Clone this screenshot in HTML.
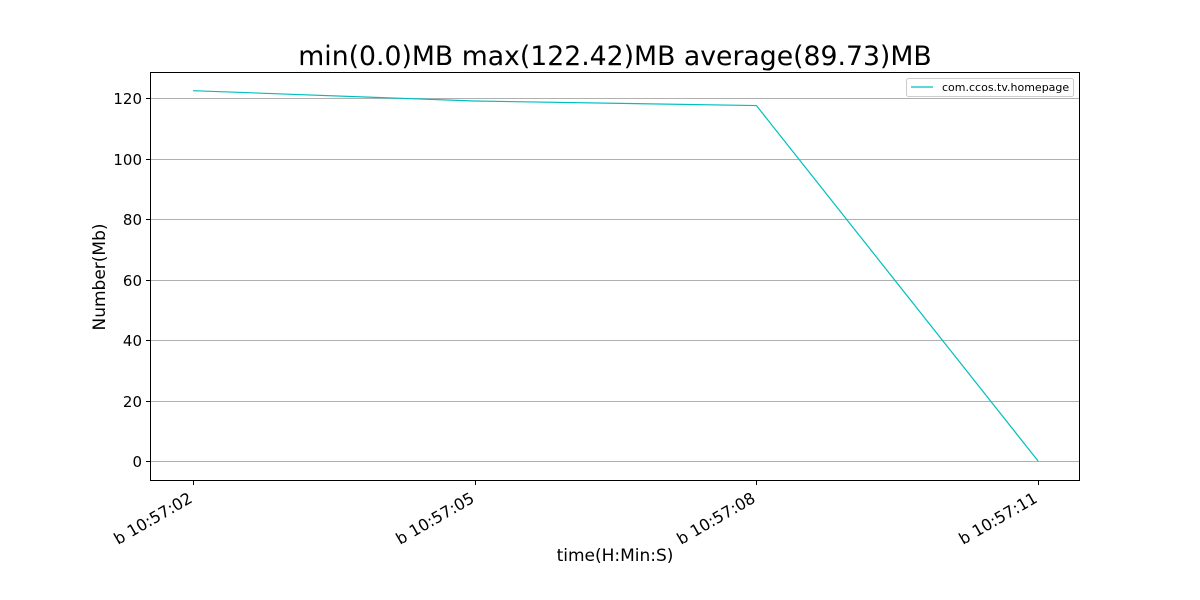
<!DOCTYPE html>
<html><head><meta charset="utf-8"><style>body{margin:0;background:#fff}svg{display:block;font-family:"DejaVu Sans","Liberation Sans",sans-serif}</style></head>
<body>
<svg id="chart" width="1200" height="600">
<rect width="1200" height="600" fill="#fff"/>
<text x="615" y="65" font-size="26.7" text-anchor="middle">min(0.0)MB max(122.42)MB average(89.73)MB</text>
<g id="grid"></g>
<g id="yticks"></g>
<g id="xticks"></g>
<path id="line" fill="none" stroke="#00bfbf" stroke-width="1.2"/>
<rect x="150.5" y="72.5" width="929" height="408" fill="none" stroke="#000" stroke-width="1"/>
<text x="615" y="561" font-size="17" text-anchor="middle">time(H:Min:S)</text>
<text transform="translate(105,277) rotate(-90)" font-size="17" text-anchor="middle">Number(Mb)</text>
<g>
<rect x="906.5" y="78.5" width="167" height="18" fill="#fff" stroke="#ccc" rx="2"/>
<line x1="911" y1="87" x2="933" y2="87" stroke="#00bfbf" stroke-width="1.2"/>
<text x="942" y="91" font-size="11">com.ccos.tv.homepage</text>
</g>
</svg>
<script>
const categories=["b 10:57:02","b 10:57:05","b 10:57:08","b 10:57:11"];
const values=[122.42,119.0,117.5,0.0];
const yTicks=[0,20,40,60,80,100,120];
const NS="http://www.w3.org/2000/svg";
const xs=i=>193+i*281.7;
const ys=v=>461-v*3.025;
const grid=document.getElementById('grid'),yt=document.getElementById('yticks'),xt=document.getElementById('xticks');
function mk(tag,at,parent){const e=document.createElementNS(NS,tag);for(const k in at)e.setAttribute(k,at[k]);parent.appendChild(e);return e;}
yTicks.forEach(v=>{
 const y=Math.round(ys(v))+0.5;
 const g=mk('line',{x1:150.5,x2:1079.5,y1:y,y2:y,stroke:'#b0b0b0','stroke-width':1},grid);
 
 
 mk('line',{x1:146,x2:150.5,y1:y,y2:y,stroke:'#000'},yt);
 const t=mk('text',{x:142,y:y+5.5,'font-size':15,'text-anchor':'end'},yt);
 t.textContent=v;
 
 
});
categories.forEach((c,i)=>{
 const x=Math.round(xs(i))+0.5;
 mk('line',{x1:x,x2:x,y1:480.5,y2:485,stroke:'#000'},xt);
 const t=mk('text',{transform:`translate(${x-6},${491}) rotate(-30)`,'font-size':16,'text-anchor':'end','dominant-baseline':'hanging'},xt);
 t.textContent=c;
 
 
});
document.getElementById('line').setAttribute('d',values.map((v,i)=>(i?'L':'M')+xs(i)+','+ys(v)).join(''));
</script>
</body></html>
